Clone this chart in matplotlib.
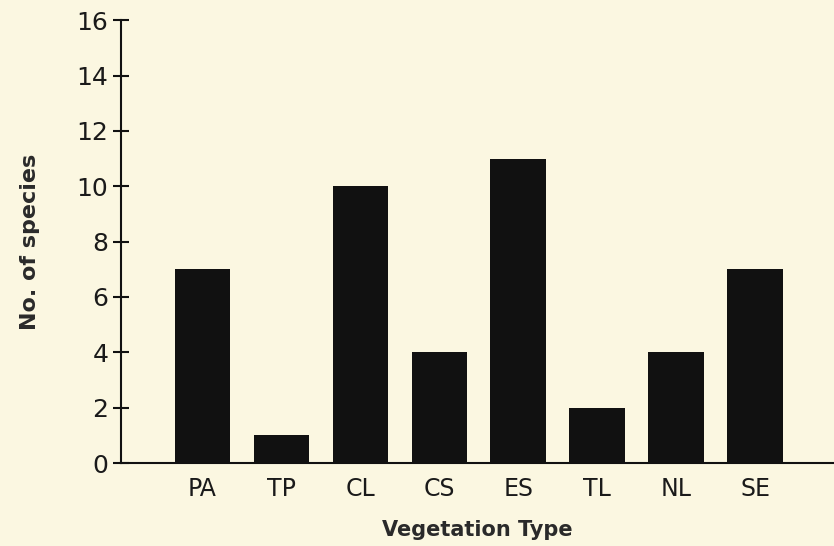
import matplotlib
matplotlib.use('Agg')
import matplotlib.pyplot as plt

# vegetation types and species counts
veg_types = ['PA', 'TP', 'CL', 'CS', 'ES', 'TL', 'NL', 'SE']
n_species = [7, 1, 10, 4, 11, 2, 4, 7]

BG = '#FBF7E1'
INK = '#111111'
plt.rcParams['font.family'] = 'DejaVu Sans'

fig = plt.figure(figsize=(8.34, 5.46), dpi=100, facecolor=BG)
ax = fig.add_axes([0.145, 0.152, 0.855, 0.811], facecolor=BG)

x = list(range(len(veg_types)))
ax.bar(x, n_species, width=0.70, color=INK, edgecolor='none', zorder=3)

ax.set_xlim(-1.03, 8.0)
ax.set_ylim(0, 16)
ax.set_yticks(range(0, 17, 2))
ax.set_xticks(x)
ax.set_xticklabels(veg_types, fontsize=17, color='#1a1a1a')
for lbl in ax.get_yticklabels():
    lbl.set_fontsize(18)
    lbl.set_color('#1a1a1a')

ax.tick_params(axis='y', direction='inout', length=12, width=1.5, color=INK, pad=3)
ax.tick_params(axis='x', length=0, pad=10)

for s in ['top', 'right']:
    ax.spines[s].set_visible(False)
for s in ['left', 'bottom']:
    ax.spines[s].set_linewidth(1.5)
    ax.spines[s].set_color(INK)

ax.set_ylabel('No. of species', fontsize=16, fontweight='bold',
              color='#2a2a2a', labelpad=26)
ax.set_xlabel('Vegetation Type', fontsize=15, fontweight='bold',
              color='#2a2a2a', labelpad=14)

fig.savefig('out.png', dpi=100, facecolor=BG)
